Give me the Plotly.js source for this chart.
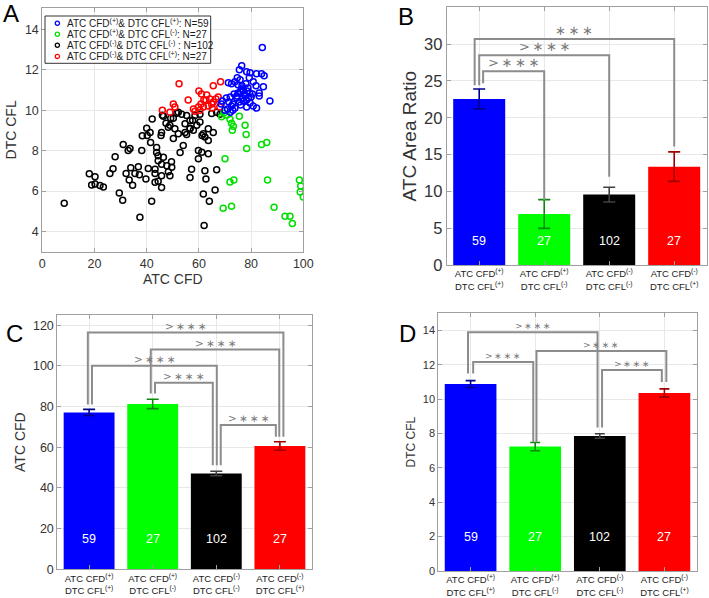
<!DOCTYPE html>
<html>
<head>
<meta charset="utf-8">
<script src="https://cdn.plot.ly/plotly-3.0.1.min.js"></script>
<style>html,body{margin:0;padding:0;background:#fff;}#chart{width:709px;height:598px;}</style>
</head>
<body>
<div id="chart"></div>
<script>
// ---------------- DATA ----------------
// Panel A scatter (ATC CFD vs DTC CFL)
const blueX = [84.3,76.4,75.5,78.3,79.6,82.1,84.0,85.0,79.3,74.7,73.8,71.3,72.5,75.0,76.5,78.0,80.8,81.9,84.7,77.0,76.0,78.5,75.0,73.5,79.5,80.5,83.1,83.1,77.2,77.8,76.8,78.3,79.0,80.0,74.5,72.0,70.5,69.0,68.5,71.5,73.0,75.5,77.0,87.2,79.6,80.8,82.1,78.3,76.0,73.8,72.5,71.0,72.0,73.0,70.0,74.5,76.2,78.8,75.8];
const blueY = [13.1,12.2,12.0,11.9,11.85,11.8,11.8,11.7,11.6,11.6,11.4,11.35,11.3,11.25,11.2,11.3,11.4,11.2,11.15,11.0,10.9,10.95,10.85,10.8,10.85,10.8,10.85,10.7,10.8,10.7,10.6,10.5,10.6,10.65,10.6,10.65,10.6,10.45,10.3,10.4,10.3,10.4,10.45,10.45,10.35,10.2,10.1,10.15,10.25,10.1,10.2,10.05,9.9,10.0,10.0,10.7,11.05,11.1,11.5];
const greenX = [68.7,70.6,71.9,73.2,72.8,75.5,77.7,78.1,78.3,84.0,86.0,70.0,71.9,73.4,86.3,69.3,72.5,88.8,93.0,94.9,95.8,98.5,99.0,98.8,100.0,72.5,69.5];
const greenY = [9.67,9.75,9.55,9.2,9.0,9.7,9.25,8.8,8.1,8.3,8.4,7.6,6.45,6.55,6.55,5.15,5.25,5.2,4.75,4.75,4.4,6.55,6.25,5.95,5.7,9.35,9.85];
const blackX = [8.4,18.0,20.2,18.9,20.2,22.1,23.4,25.9,27.1,27.9,31.0,32.9,33.6,29.5,30.8,33.9,32.1,33.3,34.6,36.8,37.2,35.5,38.1,40.0,40.2,41.3,41.5,38.3,42.1,40.6,39.7,43.2,41.9,37.4,43.8,44.4,44.4,46.4,48.9,48.3,50.2,52.1,53.4,55.3,56.6,58.5,60.4,60.4,54.7,56.6,57.9,59.2,54.7,61.7,62.3,63.6,63.6,65.5,66.8,64.9,45.7,50.8,50.2,52.1,54.0,52.8,46.4,43.8,44.4,45.7,47.7,43.2,49.6,48.9,45.7,43.2,45.7,57.2,56.6,59.8,61.1,59.8,63.6,62.3,62.7,66.8,66.2,61.7,64.0,62.0,47.4,49.2,51.5,55.3,56.6,45.5,46.0,48.3,49.5,57.6,61.2,68.1];
const blackY = [5.4,6.85,6.7,6.3,6.35,6.27,6.2,6.87,7.1,7.7,8.3,8.0,8.1,5.9,5.55,7.15,6.87,6.55,6.28,7.2,6.8,6.87,8.0,9.1,8.75,8.9,8.4,8.73,9.56,7.12,6.6,6.87,5.5,4.7,8.15,7.75,6.48,9.7,9.25,9.15,9.6,9.9,9.8,9.74,9.49,9.74,9.8,9.41,9.33,9.08,9.0,9.25,8.9,8.83,8.67,9.08,8.5,8.9,9.9,9.83,8.9,9.08,8.6,8.83,8.25,7.9,7.67,7.9,7.5,7.33,7.25,7.08,7.17,6.76,6.76,6.43,6.18,7.08,6.67,8.0,7.92,7.59,7.84,7.0,6.59,7.05,6.05,5.85,5.5,4.3,9.35,9.6,9.85,8.8,9.1,8.75,9.75,6.95,7.45,9.5,8.75,9.8];
const redX = [52.4,68.3,65.5,60.0,61.0,63.0,55.9,50.2,50.8,46.0,48.9,57.9,60.4,61.7,63.6,64.9,65.5,66.5,67.4,64.2,59.8,62.7,68.0,58.5,60.8,65.1,61.9];
const redY = [11.3,11.4,11.2,10.95,10.8,10.75,10.5,10.3,10.15,10.0,9.9,10.05,10.0,10.15,10.2,10.3,10.4,10.55,10.65,10.55,10.15,10.5,10.15,9.95,10.3,10.1,10.5];

const legendLabels = [
  "ATC CFD<sup>(+)</sup>& DTC CFL<sup>(+)</sup>: N=59",
  "ATC CFD<sup>(+)</sup>& DTC CFL<sup>(-)</sup>: N=27",
  "ATC CFD<sup>(-)</sup>& DTC CFL<sup>(-)</sup> : N=102",
  "ATC CFD<sup>(-)</sup>& DTC CFL<sup>(+)</sup>: N=27"
];

// Bar panels
const groupLabels = [
  "ATC CFD<sup>(+)</sup><br>DTC CFL<sup>(+)</sup>",
  "ATC CFD<sup>(+)</sup><br>DTC CFL<sup>(-)</sup>",
  "ATC CFD<sup>(-)</sup><br>DTC CFL<sup>(-)</sup>",
  "ATC CFD<sup>(-)</sup><br>DTC CFL<sup>(+)</sup>"
];
const groupN = ["59", "27", "102", "27"];
const areaRatioMean = [22.55, 6.93, 9.56, 13.36];
const areaRatioErr  = [1.35, 1.95, 1.0, 2.0];
const atcCfdMean = [77.1, 81.3, 47.1, 60.6];
const atcCfdErr  = [1.5, 2.3, 1.1, 2.1];
const dtcCflMean = [10.88, 7.24, 7.86, 10.36];
const dtcCflErr  = [0.2, 0.24, 0.13, 0.24];

// ---------------- STYLE ----------------
const FONT = "Liberation Sans, Arial, Helvetica, sans-serif";
const barColors = ["#0000ff", "#00ff00", "#000000", "#ff0000"];
const errColors = ["#00008b", "#0a8a0a", "#404040", "#a00000"];
const scatterColors = ["#0000ff", "#00e000", "#000000", "#ff0000"];
const W = 709, H = 598;
const px = v => v / W;
const py = v => 1 - v / H;

const axLine = {
  showline: true, linecolor: "#a0a0a0", linewidth: 1, mirror: "ticks",
  ticks: "inside", ticklen: 4, tickcolor: "#a0a0a0",
  showgrid: true, gridcolor: "#e8e8e8", zeroline: false
};

const traces = [];
// scatter
const sets = [[blueX, blueY], [greenX, greenY], [blackX, blackY], [redX, redY]];
const drawOrder = [2, 3, 1, 0];
drawOrder.forEach(i => {
  traces.push({
    type: "scatter", mode: "markers", x: sets[i][0], y: sets[i][1],
    xaxis: "x", yaxis: "y", hoverinfo: "none", showlegend: false,
    marker: { symbol: "circle-open", size: 6, color: scatterColors[i], line: { width: 1.5, color: scatterColors[i] } }
  });
});

function addBars(means, errs, xa, ya, capW) {
  for (let i = 0; i < 4; i++) {
    traces.push({
      type: "bar", x: [i], y: [means[i]], width: 0.8, xaxis: xa, yaxis: ya,
      marker: { color: barColors[i], line: { width: 0 } },
      error_y: { type: "data", array: [errs[i]], visible: true, color: errColors[i], thickness: 1.6, width: capW },
      hoverinfo: "none", showlegend: false
    });
  }
}
addBars(areaRatioMean, areaRatioErr, "x2", "y2", 6);
addBars(atcCfdMean, atcCfdErr, "x3", "y3", 6);
addBars(dtcCflMean, dtcCflErr, "x4", "y4", 5);

// ---------------- BRACKETS ----------------
const TS = "\u2009";
const STAR = ">" + TS + "\u2217" + TS + "\u2217" + TS + "\u2217";
const STAR3 = "\u2217" + TS + "\u2217" + TS + "\u2217";
const bracketsB = [
  { a: 0.06, b: 1.0, lvl: 26.3, ea: 24.7, eb: 8.8, t: STAR },
  { a: 0.0, b: 2.0, lvl: 28.5, ea: 24.4, eb: 12.0, t: STAR },
  { a: -0.07, b: 3.0, lvl: 30.7, ea: 24.4, eb: 16.1, t: STAR3 }
];
const bracketsC = [
  { a: -0.02, b: 3.055, lvl: 116.4, ea: 81.0, eb: 65.1, t: STAR },
  { a: 0.97, b: 2.99, lvl: 108.0, ea: 86.4, eb: 65.1, t: STAR },
  { a: 0.045, b: 2.008, lvl: 100.0, ea: 81.0, eb: 51.2, t: STAR },
  { a: 1.036, b: 1.945, lvl: 91.7, ea: 86.4, eb: 51.2, t: STAR },
  { a: 2.07, b: 2.936, lvl: 70.9, ea: 51.2, eb: 65.1, t: STAR }
];
const bracketsD = [
  { a: -0.04, b: 1.965, lvl: 13.9, ea: 11.5, eb: 8.35, t: STAR },
  { a: 1.02, b: 3.03, lvl: 12.8, ea: 7.5, eb: 11.0, t: STAR },
  { a: 0.04, b: 0.97, lvl: 12.16, ea: 11.5, eb: 7.5, t: STAR },
  { a: 2.035, b: 2.96, lvl: 11.7, ea: 8.35, eb: 11.0, t: STAR }
];

const shapes = [];
const annotations = [];
function addBrackets(list, xr, yr, fs) {
  list.forEach(br => {
    shapes.push({
      type: "path", xref: xr, yref: yr,
      path: `M ${br.a},${br.ea} L ${br.a},${br.lvl} L ${br.b},${br.lvl} L ${br.b},${br.eb}`,
      line: { color: "#8c8c8c", width: 2 }, layer: "above"
    });
    annotations.push({
      xref: xr, yref: yr, x: (br.a + br.b) / 2, y: br.lvl, yanchor: "bottom", yshift: -1,
      text: br.t, showarrow: false, font: { family: "DejaVu Sans, " + FONT, size: fs, color: "#7a7a7a" }
    });
  });
}
addBrackets(bracketsB, "x2", "y2", 13);
addBrackets(bracketsC, "x3", "y3", 10.5);
addBrackets(bracketsD, "x4", "y4", 9);

// count labels on bars
function addCounts(xr, yr, yv) {
  for (let i = 0; i < 4; i++) {
    annotations.push({ xref: xr, yref: yr, x: i, y: yv, text: groupN[i], showarrow: false,
      font: { family: FONT, size: 12.5, color: "#ffffff" } });
  }
}
addCounts("x2", "y2", 3.2);
addCounts("x3", "y3", 14.7);
addCounts("x4", "y4", 2.0);

// panel letters
[["A", 11, 14], ["B", 405.5, 16.5], ["C", 14.5, 333], ["D", 407.5, 333]].forEach(l => {
  annotations.push({ xref: "paper", yref: "paper", x: px(l[1]), y: py(l[2]), xanchor: "center", yanchor: "middle",
    text: l[0], showarrow: false, font: { family: FONT, size: 24, color: "#000" } });
});

// legend of panel A (drawn)
shapes.push({ type: "rect", xref: "paper", yref: "paper", x0: px(45), x1: px(210.7), y0: py(63.3), y1: py(16),
  line: { color: "#333", width: 1 }, fillcolor: "#ffffff", layer: "above" });
const rowY = [23.3, 34.2, 45.3, 56.4];
for (let i = 0; i < 4; i++) {
  shapes.push({ type: "circle", xref: "paper", yref: "paper", x0: px(55.3), x1: px(59.5), y0: py(rowY[i] + 2.1), y1: py(rowY[i] - 2.1),
    line: { color: scatterColors[i], width: 1.3 }, fillcolor: "rgba(0,0,0,0)", layer: "above" });
  annotations.push({ xref: "paper", yref: "paper", x: px(64.5), y: py(rowY[i]), xanchor: "left", yanchor: "middle",
    text: legendLabels[i], showarrow: false, font: { family: FONT, size: 10, color: "#1a1a1a" } });
}

const catTicks = { tickmode: "array", tickvals: [0, 1, 2, 3], ticktext: groupLabels, range: [-0.5, 3.5],
  tickfont: { family: FONT, size: 9.5, color: "#1a1a1a" } };

const layout = {
  width: W, height: H, margin: { l: 0, r: 0, t: 0, b: 0 },
  paper_bgcolor: "#fff", plot_bgcolor: "#fff", showlegend: false, barmode: "overlay",
  font: { family: FONT, color: "#333" },
  xaxis: Object.assign({}, axLine, { domain: [px(42.3), px(303.3)], anchor: "y", range: [0, 100], dtick: 20,
    tickfont: { family: FONT, size: 12.5, color: "#333" },
    title: { text: "ATC CFD", font: { family: FONT, size: 14, color: "#333" }, standoff: 2 } }),
  yaxis: Object.assign({}, axLine, { domain: [py(251.7), py(8)], anchor: "x", range: [3, 15.05], dtick: 2,
    tickfont: { family: FONT, size: 12.5, color: "#333" },
    title: { text: "DTC CFL", font: { family: FONT, size: 14, color: "#333" }, standoff: 4 } }),
  xaxis2: Object.assign({}, axLine, catTicks, { domain: [px(446.7), px(706.7)], anchor: "y2" }),
  yaxis2: Object.assign({}, axLine, { domain: [py(265), py(7.3)], anchor: "x2", range: [0, 35], dtick: 5,
    tickfont: { family: FONT, size: 16.5, color: "#333" },
    title: { text: "ATC Area Ratio", font: { family: FONT, size: 19, color: "#333" }, standoff: 2 } }),
  xaxis3: Object.assign({}, axLine, catTicks, { domain: [px(57.3), px(311.7)], anchor: "y3" }),
  yaxis3: Object.assign({}, axLine, { domain: [py(569.3), py(315)], anchor: "x3", range: [0, 125], dtick: 20,
    tickfont: { family: FONT, size: 12.5, color: "#333" },
    title: { text: "ATC CFD", font: { family: FONT, size: 14, color: "#333" }, standoff: 4 } }),
  xaxis4: Object.assign({}, axLine, catTicks, { domain: [px(438.3), px(696.7)], anchor: "y4" }),
  yaxis4: Object.assign({}, axLine, { domain: [py(571), py(313.3)], anchor: "x4", range: [0, 15], dtick: 2,
    tickfont: { family: FONT, size: 11, color: "#333" },
    title: { text: "DTC CFL", font: { family: FONT, size: 12, color: "#333" }, standoff: 4 } }),
  shapes: shapes,
  annotations: annotations
};

Plotly.newPlot("chart", traces, layout, { staticPlot: true, displayModeBar: false });
</script>
</body>
</html>
